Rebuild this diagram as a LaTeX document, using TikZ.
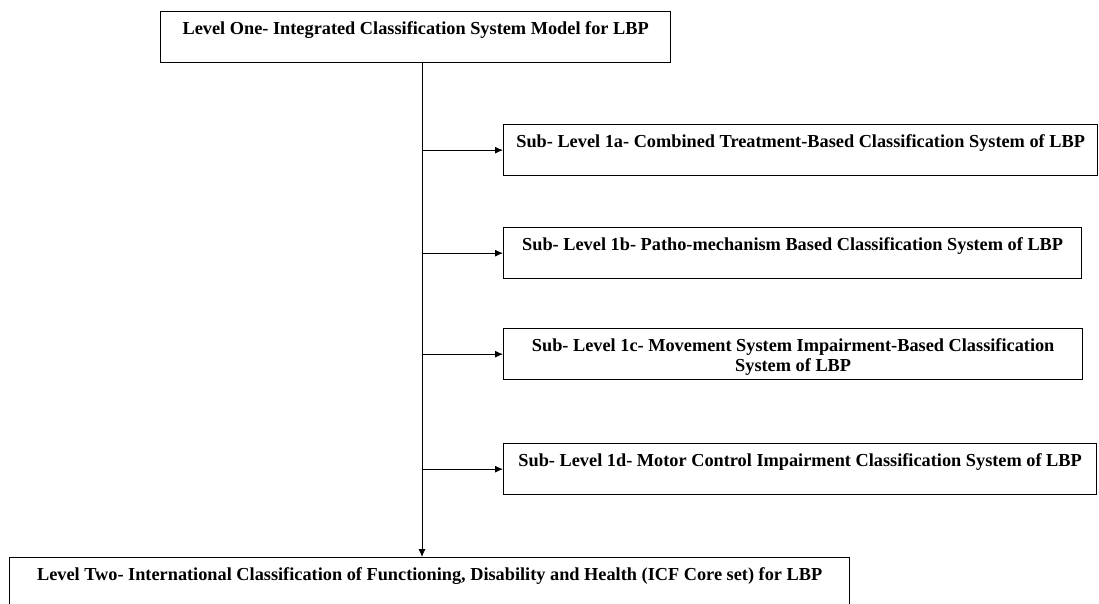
\documentclass[tikz,border=0pt]{standalone}
\usepackage{fontspec}
\setmainfont{Liberation Serif}
\usetikzlibrary{arrows.meta}
\begin{document}
\begin{tikzpicture}[x=1pt,y=-1pt,every node/.style={shape=rectangle,draw=black,line width=1.3pt,anchor=north west,align=center,inner xsep=0pt,inner ysep=6pt,text height=17pt,text depth=22pt,font=\bfseries\fontsize{18.3}{20}\selectfont},
    link/.style={line width=0.9pt,-{Latex[length=8pt,width=7pt]}},]
        \useasboundingbox (0,0) rectangle (1099,603);
        \newcommand{\trunkx}{422}
        \node[minimum width=510pt] (levelone) at (160,11) {Level One- Integrated Classification System Model for LBP};
        \node[minimum width=594pt] (suba) at (503,124) {Sub- Level 1a- Combined Treatment-Based Classification System of LBP};
        \node[minimum width=578pt] (subb) at (503,227) {Sub- Level 1b- Patho-mechanism Based Classification System of LBP};
        \node[minimum width=579pt,text height=37pt,text depth=2pt] (subc) at (503,328) {Sub- Level 1c- Movement System Impairment-Based Classification\\System of LBP};
        \node[minimum width=593pt] (subd) at (503,443) {Sub- Level 1d- Motor Control Impairment Classification System of LBP};
        \node[minimum width=840pt] (leveltwo) at (9,557) {Level Two- International Classification of Functioning, Disability and Health (ICF Core set) for LBP};
        \coordinate (trunk) at (\trunkx,62);
        \draw[link] (trunk) -- (trunk |- leveltwo.north);
        \foreach \i in {a,b,c,d}{
          \draw[link] (trunk |- sub\i.west) -- (sub\i.west);
        }
      \end{tikzpicture}
\end{document}
